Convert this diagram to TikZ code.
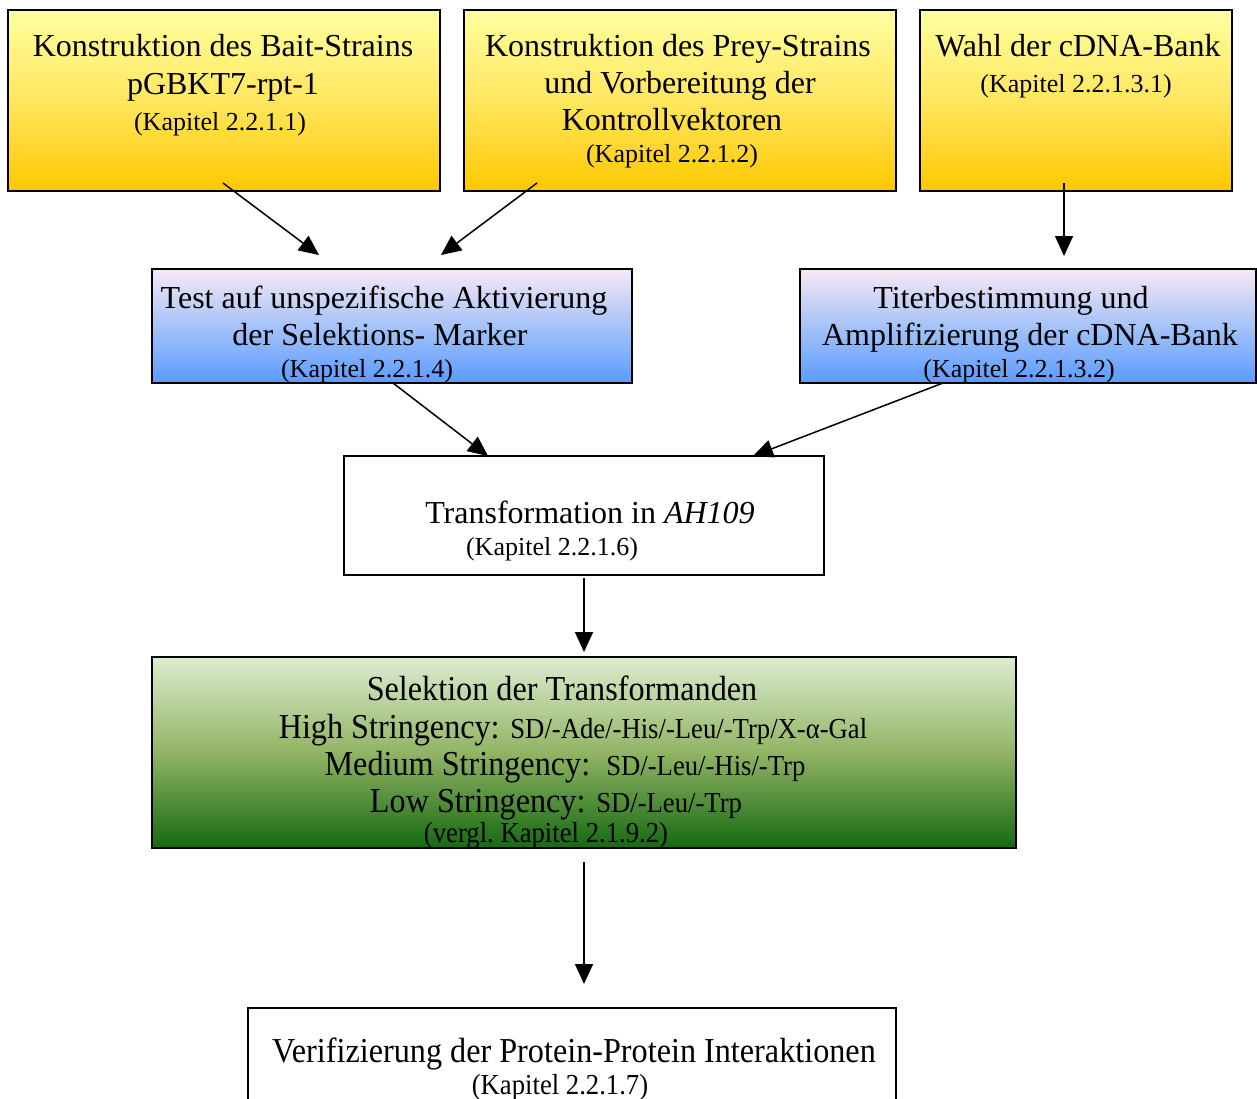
\documentclass[tikz,border=0pt]{standalone}
\usepackage{fontspec}
\setmainfont{Liberation Serif}
\newfontfamily\condfont[FakeStretch=0.92]{Liberation Serif}
\usetikzlibrary{arrows.meta,calc}
\definecolor{ytop}{RGB}{255,255,160}
\definecolor{ymid}{RGB}{255,230,95}
\definecolor{ybot}{RGB}{255,200,0}
\definecolor{btop}{RGB}{248,232,245}
\definecolor{bmid}{RGB}{165,195,248}
\definecolor{bbot}{RGB}{90,155,255}
\definecolor{gtop}{RGB}{222,236,208}
\definecolor{gmid}{RGB}{145,180,100}
\definecolor{gbot}{RGB}{22,105,18}
\begin{document}
\begin{tikzpicture}[x=1pt,y=-1pt,
  box/.style={draw=black, line width=2pt, inner sep=0pt},
  ybox/.style={box, top color=ytop, bottom color=ybot, middle color=ymid},
  bbox/.style={box, top color=btop, bottom color=bbot, middle color=bmid},
  gbox/.style={box, top color=gtop, bottom color=gbot, middle color=gmid},
  wbox/.style={box, fill=white},
  mt/.style={font=\fontsize{32}{37}\selectfont, inner sep=0pt, anchor=base},
  st/.style={font=\fontsize{26}{30}\selectfont, inner sep=0pt, anchor=base},
  cmt/.style={font=\condfont\fontsize{35}{37}\selectfont, inner sep=0pt, anchor=base},
  cst/.style={font=\condfont\fontsize{29}{30}\selectfont, inner sep=0pt, anchor=base},
  arr/.style={line width=1.5pt, -{Triangle[length=20pt,width=18pt]}}
]
\useasboundingbox (0,0) rectangle (1257,1098);
% boxes
\node[ybox, minimum width=432pt, minimum height=181pt] (A) at (224,100.5) {};
\node[ybox, minimum width=432pt, minimum height=181pt] (B) at (680,100.5) {};
\node[ybox, minimum width=312pt, minimum height=181pt] (C) at (1076,100.5) {};
\node[bbox, minimum width=480pt, minimum height=114pt] (D) at (392,326) {};
\node[bbox, minimum width=456pt, minimum height=114pt] (E) at (1028,326) {};
\node[wbox, minimum width=480pt, minimum height=119pt] (F) at (584,515.5) {};
\node[gbox, minimum width=864pt, minimum height=191pt] (G) at (584,752.5) {};
\node[wbox, minimum width=648pt, minimum height=112pt] (H) at (572,1064) {};
% texts
\node[mt] (A1) at (223,56) {Konstruktion des Bait-Strains};
\node[mt] (A2) at (223,94) {pGBKT7-rpt-1};
\node[st] (A3) at (220,130) {(Kapitel 2.2.1.1)};
\node[mt] (B1) at (678,56) {Konstruktion des Prey-Strains};
\node[mt] (B2) at (680,93) {und Vorbereitung der};
\node[mt] (B3) at (672,130) {Kontrollvektoren};
\node[st] (B4) at (672,162) {(Kapitel 2.2.1.2)};
\node[mt] (C1) at (1078,56) {Wahl der cDNA-Bank};
\node[st] (C2) at (1076,92) {(Kapitel 2.2.1.3.1)};
\node[mt] (D1) at (384,308) {Test auf unspezifische Aktivierung};
\node[mt] (D2) at (380,345) {der Selektions- Marker};
\node[st] (D3) at (367,377) {(Kapitel 2.2.1.4)};
\node[mt] (E1) at (1011,308) {Titerbestimmung und};
\node[mt] (E2) at (1030,345) {Amplifizierung der cDNA-Bank};
\node[st] (E3) at (1019,377) {(Kapitel 2.2.1.3.2)};
\node[mt] (F1) at (590,523) {Transformation in \textit{AH109}};
\node[st] (F2) at (552,555) {(Kapitel 2.2.1.6)};
\node[cmt] (G1) at (562,700) {Selektion der Transformanden};
\node[cmt] (G2) at (573,738) {High Stringency: {\fontsize{29}{30}\selectfont SD/-Ade/-His/-Leu/-Trp/X-α-Gal}};
\node[cmt] (G3) at (565,775) {Medium Stringency:\ \ {\fontsize{29}{30}\selectfont SD/-Leu/-His/-Trp}};
\node[cmt] (G4) at (556,812) {Low Stringency: {\fontsize{29}{30}\selectfont SD/-Leu/-Trp}};
\node[cst] (G5) at (546,842) {(vergl.\ Kapitel 2.1.9.2)};
\node[cmt] (H1) at (574,1062) {Verifizierung der Protein-Protein Interaktionen};
\node[cst] (H2) at (560,1094) {(Kapitel 2.2.1.7)};
% connector ends
\coordinate (a1) at (223,183); \coordinate (a2) at (319,255);
\coordinate (b1) at (537,183); \coordinate (b2) at (441,255);
\coordinate (c1) at (1064,183); \coordinate (c2) at (1064,256);
\coordinate (d1) at (393,383); \coordinate (d2) at (488,456);
\coordinate (e1) at (943,383); \coordinate (e2) at (753,456);
\coordinate (f1) at (584,578); \coordinate (f2) at (584,652);
\coordinate (g1) at (584,862); \coordinate (g2) at (584,984);
\draw[arr] (a1) -- (a2);
\draw[arr] (b1) -- (b2);
\draw[arr] (c1) -- (c2);
\draw[arr] (d1) -- (d2);
\draw[arr] (e1) -- (e2);
\draw[arr] (f1) -- (f2);
\draw[arr] (g1) -- (g2);
\end{tikzpicture}
\end{document}
